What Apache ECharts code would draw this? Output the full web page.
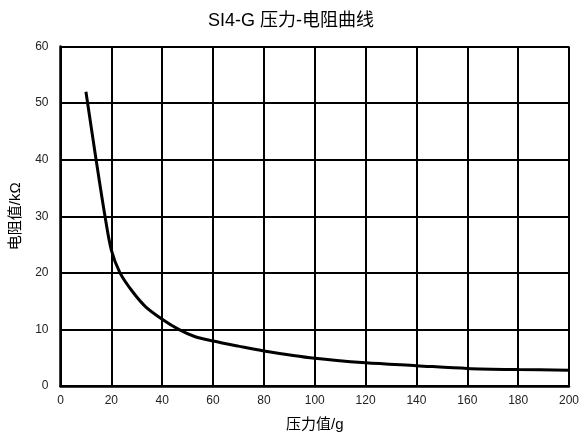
<!DOCTYPE html>
<html><head><meta charset="utf-8">
<script src="https://cdn.jsdelivr.net/npm/echarts@6/dist/echarts.min.js"></script>
<style>html,body{margin:0;padding:0;background:#fff}#c{width:582px;height:438px}</style>
</head><body><div id="c"></div>
<script>
var pressure = [10, 14, 17.5, 20, 23.4, 28.3, 33.5, 40, 46.5, 53, 60, 70, 80, 100, 120, 140, 160, 180, 200];
var resistance = [52, 40, 30, 24, 20, 16.7, 14, 11.8, 10, 8.7, 7.95, 7.05, 6.2, 4.9, 4.1, 3.6, 3.1, 2.9, 2.8];
var xTicks = [0, 20, 40, 60, 80, 100, 120, 140, 160, 180, 200];
var yTicks = [0, 10, 20, 30, 40, 50, 60];
var FONT = '"Liberation Sans", "Noto Sans CJK SC", sans-serif';
var chart = echarts.init(document.getElementById('c'));
var data = pressure.map(function (p, i) { return [p, resistance[i]]; });
chart.setOption({
  animation: false,
  title: { text: 'SI4-G 压力-电阻曲线', left: 'center', top: 7,
    textStyle: { fontFamily: FONT, fontSize: 18, fontWeight: 'normal', color: '#000' } },
  grid: { left: 60.5, right: 9, top: 46.5, bottom: 52 },
  xAxis: {
    type: 'value', min: xTicks[0], max: xTicks[xTicks.length - 1], interval: 20,
    name: '压力值/g', nameLocation: 'middle', nameGap: 31,
    nameTextStyle: { fontFamily: FONT, fontSize: 15, color: '#000' },
    axisLine: { show: true, lineStyle: { color: '#000', width: 2.5 } },
    axisTick: { show: false },
    axisLabel: { fontFamily: FONT, fontSize: 12, color: '#222', margin: 9 },
    splitLine: { show: true, lineStyle: { color: '#000', width: 2 } }
  },
  yAxis: {
    type: 'value', min: yTicks[0], max: yTicks[yTicks.length - 1], interval: 10,
    name: '电阻值/kΩ', nameLocation: 'middle', nameGap: 37, nameRotate: 90,
    nameTextStyle: { fontFamily: FONT, fontSize: 15, color: '#000' },
    axisLine: { show: true, lineStyle: { color: '#000', width: 2.5 } },
    axisTick: { show: false },
    axisLabel: { fontFamily: FONT, fontSize: 12, color: '#222', margin: 12 },
    splitLine: { show: true, lineStyle: { color: '#000', width: 2 } }
  },
  series: [{
    type: 'line', data: data, smooth: 0.3, showSymbol: false,
    lineStyle: { color: '#000', width: 3 }
  }]
});
</script></body></html>
